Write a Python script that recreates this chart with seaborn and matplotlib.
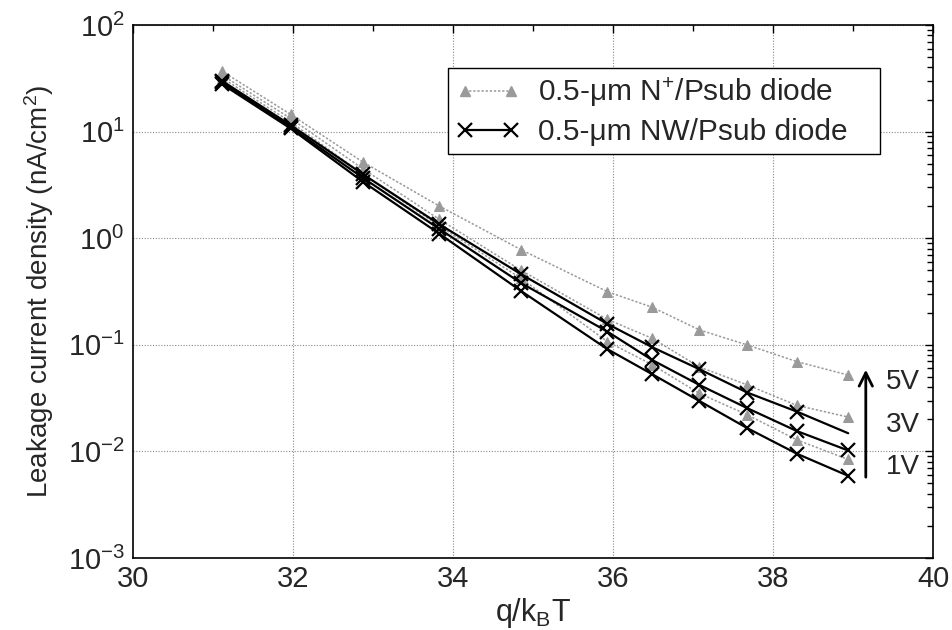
import numpy as np
import pandas as pd
import matplotlib
matplotlib.use("Agg")
import matplotlib.pyplot as plt
import seaborn as sns
from matplotlib.lines import Line2D
from matplotlib.ticker import FixedLocator, LogLocator, NullFormatter, FuncFormatter

# ---- data ----
q_kT = [31.11, 31.97, 32.87, 33.83, 34.85, 35.93, 36.49, 37.08, 37.68, 38.30, 38.94]

nplus_5V = [37.0, 14.5, 5.2, 2.0, 0.78, 0.315, 0.225, 0.138, 0.0995, 0.0695, 0.052]
nplus_3V = [34.0, 13.3, 4.5, 1.5, 0.50, 0.173, 0.115, 0.062, 0.042, 0.027, 0.021]
nplus_1V = [32.0, 12.3, 4.0, 1.3, 0.42, 0.107, 0.065, 0.035, 0.022, 0.0128, 0.0084]

nw_5V = [30.0, 11.5, 4.0, 1.35, 0.46, 0.157, 0.095, 0.059, 0.0356, 0.0236, 0.0148]
nw_3V = [29.0, 11.0, 3.7, 1.22, 0.38, 0.133, 0.072, 0.042, 0.0254, 0.0155, 0.0102]
nw_1V = [28.0, 10.7, 3.4, 1.10, 0.32, 0.091, 0.053, 0.0297, 0.0165, 0.0095, 0.0059]

legend_labels = ["0.5-\u03bcm N$^{+}$/Psub diode", "0.5-\u03bcm NW/Psub diode"]
bias_labels = ["5V", "3V", "1V"]

# ---- style ----
sns.set_style("white")
plt.rcParams["font.family"] = ["Liberation Sans", "DejaVu Sans"]
plt.rcParams["mathtext.fontset"] = "custom"
plt.rcParams["mathtext.rm"] = "Liberation Sans"
plt.rcParams["mathtext.it"] = "Liberation Sans:italic"
plt.rcParams["mathtext.default"] = "regular"

fig = plt.figure(figsize=(9.53, 6.30), dpi=100)
ax = fig.add_axes([133 / 953, 1 - 558 / 630, 800 / 953, 533 / 630])

gray = "#9a9a9a"
for ys in [nplus_5V, nplus_3V, nplus_1V]:
    sns.lineplot(x=q_kT, y=ys, ax=ax, color=gray, linestyle=(0, (1.5, 1.2)), linewidth=1.1,
                 marker="^", markersize=7, markeredgecolor=gray, markerfacecolor=gray,
                 estimator=None, sort=False, legend=False)

for i, ys in enumerate([nw_5V, nw_3V, nw_1V]):
    mk = list(range(len(q_kT) - 1)) if i == 0 else None
    sns.lineplot(x=q_kT, y=ys, ax=ax, color="black", linewidth=1.6,
                 marker="x", markersize=10, markeredgewidth=1.6, markeredgecolor="black",
                 markevery=mk, estimator=None, sort=False, legend=False)

ax.set_yscale("log")
ax.set_xlim(30, 40)
ax.set_ylim(1e-3, 1e2)

ax.xaxis.set_major_locator(FixedLocator([30, 32, 34, 36, 38, 40]))
ax.xaxis.set_minor_locator(FixedLocator([31, 33, 35, 37, 39]))
ax.yaxis.set_major_locator(LogLocator(base=10, numticks=10))
ax.yaxis.set_minor_locator(LogLocator(base=10, subs=np.arange(2, 10), numticks=10))
ax.yaxis.set_minor_formatter(NullFormatter())
ax.yaxis.set_major_formatter(FuncFormatter(lambda v, p: "$10^{%d}$" % int(round(np.log10(v)))))

ax.tick_params(axis="both", which="both", direction="in", top=True, right=True,
               labelsize=21, color="black")
ax.tick_params(which="major", length=6, width=1)
ax.tick_params(which="minor", length=4, width=1)
ax.tick_params(axis="x", pad=5)
ax.tick_params(axis="y", pad=6)

ax.grid(True, which="major", linestyle=(0, (1, 1.5)), color="#888888", linewidth=0.8)
ax.grid(False, which="minor")
for g in ax.get_xgridlines():
    if abs(g.get_xdata()[0] - 30) < 1e-6 or abs(g.get_xdata()[0] - 40) < 1e-6:
        g.set_visible(False)
for sp in ax.spines.values():
    sp.set_color("black")
    sp.set_linewidth(1.2)

ax.set_xlabel("q/k$_{B}$T", fontsize=22, labelpad=2)
ax.set_ylabel("Leakage current density (nA/cm$^{2}$)", fontsize=20, labelpad=8)

handles = [
    Line2D([0], [0], color=gray, linestyle=(0, (1.5, 1.2)), linewidth=1.1, marker="^",
           markersize=7, markerfacecolor=gray, markeredgecolor=gray),
    Line2D([0], [0], color="black", linewidth=1.6, marker="x", markersize=10,
           markeredgewidth=1.6, markeredgecolor="black"),
]
leg = ax.legend(handles, [s + "   " for s in legend_labels], loc="upper right",
                bbox_to_anchor=(0.934, 0.919),
                fontsize=21.5, numpoints=2, handlelength=2.17, handletextpad=0.6,
                labelspacing=0.3, borderpad=0.25, borderaxespad=0, fancybox=False,
                framealpha=1, edgecolor="black")
leg.get_frame().set_linewidth(1.0)

# voltage arrow and labels
ax.annotate("", xy=(39.16, 0.062), xytext=(39.16, 0.0054),
            arrowprops=dict(arrowstyle="->", color="black", lw=2, mutation_scale=24))
for lab, yv in zip(bias_labels, [0.0448, 0.0177, 0.00714]):
    ax.text(39.62, yv, lab, fontsize=20, ha="center", va="center")

fig.savefig("out.png", dpi=100)
